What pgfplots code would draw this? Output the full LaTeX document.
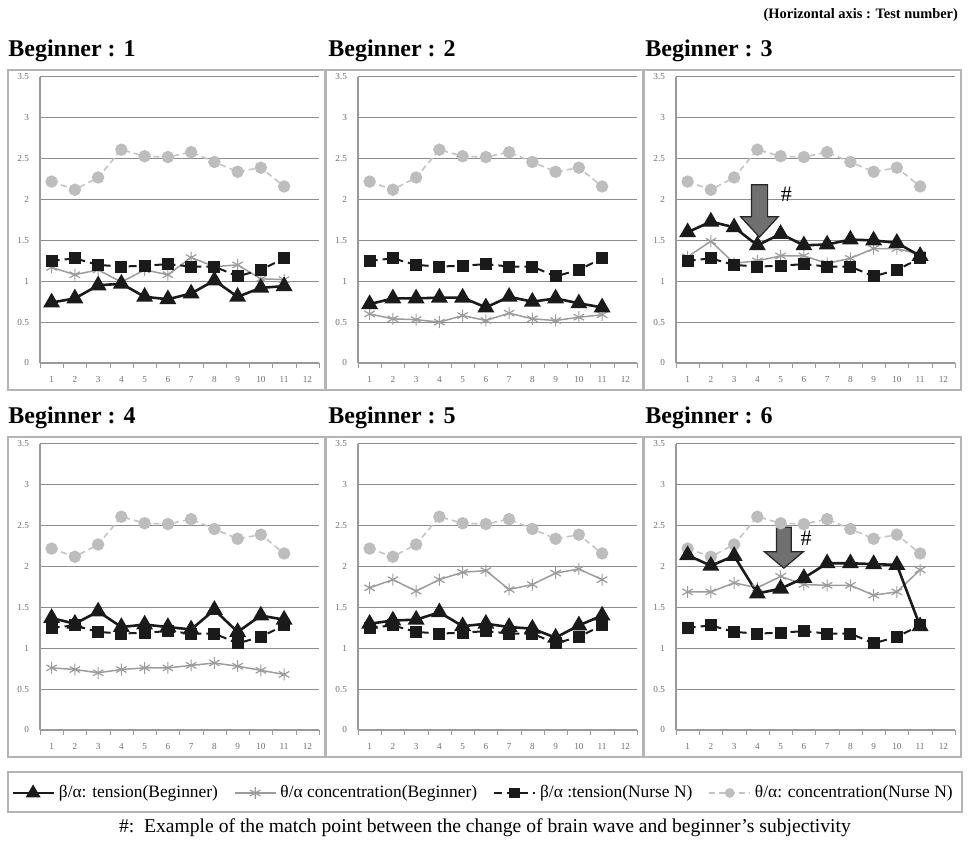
\documentclass[border=0pt]{standalone}
\usepackage{pgfplots}
\usepackage{pgfplotstable}
\pgfplotsset{compat=1.18}
\usepackage{fontspec}
\setmainfont{Liberation Serif}

\definecolor{circc}{HTML}{BDBDBD}
\definecolor{circl}{HTML}{C4C4C4}
\definecolor{starc}{HTML}{9C9C9C}
\definecolor{gridc}{HTML}{8C8C8C}
\definecolor{axc}{HTML}{9A9A9A}
\definecolor{framec}{HTML}{B4B4B4}
\definecolor{tickc}{HTML}{6E6E6E}
\definecolor{arrowc}{HTML}{707070}
\definecolor{darkc}{HTML}{1A1A1A}

\pgfplotstableread{
x nt nc
1 1.25 2.22
2 1.28 2.12
3 1.20 2.27
4 1.18 2.61
5 1.19 2.53
6 1.21 2.52
7 1.18 2.58
8 1.18 2.46
9 1.06 2.34
10 1.14 2.39
11 1.28 2.16
}\nurse

\pgfplotstableread{
x bt bc
1 0.74 1.17
2 0.79 1.08
3 0.95 1.14
4 0.97 0.99
5 0.81 1.14
6 0.78 1.08
7 0.85 1.29
8 1.01 1.18
9 0.81 1.20
10 0.92 1.03
11 0.94 1.02
}\begA

\pgfplotstableread{
x bt bc
1 0.72 0.60
2 0.79 0.54
3 0.79 0.53
4 0.80 0.50
5 0.80 0.58
6 0.68 0.52
7 0.81 0.61
8 0.75 0.54
9 0.79 0.52
10 0.73 0.56
11 0.68 0.59
}\begB

\pgfplotstableread{
x bt bc
1 1.60 1.30
2 1.73 1.49
3 1.66 1.22
4 1.44 1.25
5 1.58 1.31
6 1.44 1.31
7 1.45 1.22
8 1.51 1.28
9 1.50 1.40
10 1.47 1.40
11 1.31 1.33
}\begC

\pgfplotstableread{
x bt bc
1 1.37 0.76
2 1.30 0.74
3 1.45 0.70
4 1.26 0.74
5 1.29 0.76
6 1.26 0.76
7 1.23 0.79
8 1.47 0.82
9 1.20 0.78
10 1.40 0.73
11 1.35 0.68
}\begD

\pgfplotstableread{
x bt bc
1 1.30 1.74
2 1.34 1.84
3 1.35 1.70
4 1.44 1.84
5 1.27 1.93
6 1.30 1.95
7 1.26 1.72
8 1.24 1.78
9 1.13 1.92
10 1.28 1.97
11 1.40 1.84
}\begE

\pgfplotstableread{
x bt bc
1 2.14 1.69
2 2.01 1.69
3 2.13 1.80
4 1.67 1.74
5 1.73 1.88
6 1.86 1.78
7 2.04 1.77
8 2.04 1.77
9 2.03 1.65
10 2.02 1.69
11 1.27 1.96
}\begF

\pgfplotsset{
  tensB/.style={darkc, line width=1.3pt, mark=triangle*, mark size=3.6pt, mark options={solid, fill=darkc}},
  concB/.style={starc, line width=0.75pt, mark=asterisk, mark size=3pt, mark options={solid, line width=0.6pt}},
  tensN/.style={darkc, line width=1pt, dash pattern=on 4pt off 2.5pt, mark=square*, mark size=2.5pt, mark options={solid, fill=darkc}},
  concN/.style={circl, line width=0.8pt, dash pattern=on 3pt off 2pt, mark=*, mark size=2.7pt, mark options={solid, fill=circc, draw=circc}},
  panel/.style={
    scale only axis, width=139.5pt, height=143pt, anchor=south west,
    xmin=0.5, xmax=12.5, ymin=0, ymax=3.5,
    xtick={1,...,12}, ytick={0,0.5,...,3.5},
    minor xtick={0.5,1.5,...,12.5},
    ymajorgrids, major grid style={gridc, line width=0.5pt},
    axis x line*=bottom, axis y line*=left,
    x axis line style={-}, y axis line style={-},
    axis line style={axc, line width=0.6pt},
    major tick length=0pt, minor tick length=2.5pt, tick align=outside,
    tick style={axc},
    ticklabel style={font=\fontsize{4.6}{5}\selectfont, text=tickc},
    /pgf/number format/assume math mode=true,
    yticklabel style={xshift=-2pt},
    xticklabel style={yshift=-3pt},
    clip=false,
  },
}

\newcommand{\panel}[4]{%
\begin{axis}[panel, at={(#1,#2)}]
\addplot[concN] table[x=x,y=nc]{\nurse};
\addplot[concB] table[x=x,y=bc]{#3};
\addplot[tensN] table[x=x,y=nt]{\nurse};
\addplot[tensB] table[x=x,y=bt]{#3};
#4
\end{axis}}

\begin{document}
\begin{tikzpicture}
\useasboundingbox (0,0) rectangle (485.5pt,424.5pt);

% panel frames
\foreach \fx in {4,163,322}{
  \draw[framec, line width=0.7pt] (\fx pt,229.5pt) rectangle ++(158.5pt,160pt);
  \draw[framec, line width=0.7pt] (\fx pt,46pt) rectangle ++(158.5pt,160pt);
}

% titles
\node[anchor=base east, font=\bfseries\fontsize{7.2}{8}\selectfont] at (482.5pt,415pt) {(Horizontal axis : Test number)};
\node[anchor=base west, font=\bfseries\fontsize{12}{13}\selectfont, inner sep=0pt] at (4pt,396pt) {Beginner : 1};
\node[anchor=base west, font=\bfseries\fontsize{12}{13}\selectfont, inner sep=0pt] at (164pt,396pt) {Beginner : 2};
\node[anchor=base west, font=\bfseries\fontsize{12}{13}\selectfont, inner sep=0pt] at (322.5pt,396pt) {Beginner : 3};
\node[anchor=base west, font=\bfseries\fontsize{12}{13}\selectfont, inner sep=0pt] at (4pt,212.5pt) {Beginner : 4};
\node[anchor=base west, font=\bfseries\fontsize{12}{13}\selectfont, inner sep=0pt] at (164pt,212.5pt) {Beginner : 5};
\node[anchor=base west, font=\bfseries\fontsize{12}{13}\selectfont, inner sep=0pt] at (322.5pt,212.5pt) {Beginner : 6};

\panel{20pt}{243pt}{\begA}{}
\panel{179pt}{243pt}{\begB}{}
\panel{338pt}{243pt}{\begC}{%
  \draw[fill=arrowc, draw=black!85, line width=0.6pt]
    (axis cs:3.75,2.18) -- (axis cs:4.44,2.18) -- (axis cs:4.44,1.79) -- (axis cs:4.9,1.79)
    -- (axis cs:4.09,1.54) -- (axis cs:3.28,1.79) -- (axis cs:3.75,1.79) -- cycle;
  \node[font=\fontsize{11}{11}\selectfont] at (axis cs:5.25,2.06) {\#};
}
\panel{20pt}{59.5pt}{\begD}{}
\panel{179pt}{59.5pt}{\begE}{}
\panel{338pt}{59.5pt}{\begF}{%
  \draw[fill=arrowc, draw=black!85, line width=0.6pt]
    (axis cs:4.82,2.48) -- (axis cs:5.46,2.48) -- (axis cs:5.46,2.18) -- (axis cs:5.97,2.18)
    -- (axis cs:5.14,1.98) -- (axis cs:4.31,2.18) -- (axis cs:4.82,2.18) -- cycle;
  \node[font=\fontsize{11}{11}\selectfont] at (axis cs:6.1,2.35) {\#};
}

% legend box
\draw[framec, line width=0.7pt] (4pt,18.5pt) rectangle (481pt,38.5pt);
\begin{axis}[hide axis, scale only axis, width=10pt, height=10pt,
  at={(242pt,28pt)}, anchor=center, xmin=0, xmax=1, ymin=0, ymax=1,
  legend columns=4,
  legend style={draw=none, fill=none, at={(0.5,0.5)}, anchor=center,
    font=\fontsize{8.7}{9.5}\selectfont, inner sep=1pt,
    /tikz/every even column/.append style={column sep=6pt}},
  legend image code/.code={\draw[mark repeat=2,mark phase=2] plot coordinates {(0cm,0cm) (0.36cm,0cm) (0.72cm,0cm)};}]
\addlegendimage{tensB, mark size=3pt}
\addlegendentry{β/α: tension(Beginner)}
\addlegendimage{concB}
\addlegendentry{θ/α concentration(Beginner)}
\addlegendimage{tensN, mark size=2.2pt}
\addlegendentry{β/α :tension(Nurse N)}
\addlegendimage{concN, mark size=2pt}
\addlegendentry{θ/α: concentration(Nurse N)}
\end{axis}

\node[anchor=base, font=\fontsize{9.8}{10}\selectfont] at (242.5pt,8pt) {\#:\ \ Example of the match point between the change of brain wave and beginner's subjectivity};
\end{tikzpicture}
\end{document}
